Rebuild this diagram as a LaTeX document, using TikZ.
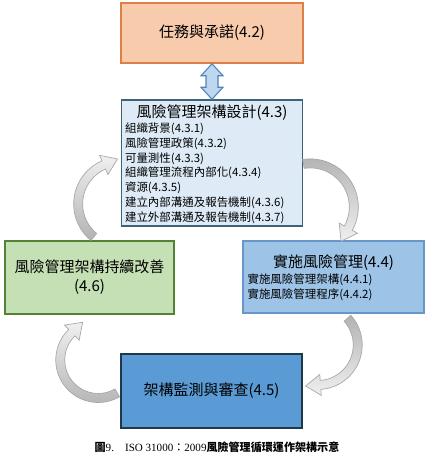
\documentclass[tikz,border=0pt]{standalone}
\usepackage{fontspec}
\setmainfont{Noto Sans CJK TC}
\newfontfamily\capserif{Liberation Serif}
\usetikzlibrary{positioning, calc}

\definecolor{commitfill}{RGB}{248,203,173}
\definecolor{commitline}{RGB}{222,128,70}
\definecolor{designfill}{RGB}{222,235,247}
\definecolor{designline}{RGB}{62,98,120}
\definecolor{improvefill}{RGB}{197,224,180}
\definecolor{improveline}{RGB}{84,130,53}
\definecolor{implfill}{RGB}{157,195,230}
\definecolor{implline}{RGB}{105,150,200}
\definecolor{monitorfill}{RGB}{91,155,213}
\definecolor{monitorline}{RGB}{30,58,72}
\definecolor{linkfill}{RGB}{189,215,238}
\definecolor{linkline}{RGB}{80,130,190}

\newcommand{\titlesize}{\fontsize{11.25pt}{14.3pt}\selectfont\lineskiplimit=-\maxdimen}
\newcommand{\itemsize}{\fontsize{8.6pt}{11.2pt}\selectfont\lineskiplimit=-\maxdimen}

% curved block arrow: centre, radius, start angle, end angle, fill options
\newcommand{\bendarrow}[5]{%
  \pgfmathsetmacro{\bendout}{#2+4.5}%
  \pgfmathsetmacro{\bendin}{#2-4.5}%
  \pgfmathsetmacro{\headout}{#2+10.5}%
  \pgfmathsetmacro{\headin}{#2-10.5}%
  \pgfmathsetmacro{\tipdir}{#4<#3 ? #4-90 : #4+90}%
  \draw[bendstyle, #5] ($(#1)+(#3:\bendout)$) arc[start angle=#3, end angle=#4, radius=\bendout]
    -- ($(#1)+(#4:\headout)$) -- ($(#1)+(#4:#2)+(\tipdir:15)$) -- ($(#1)+(#4:\headin)$)
    -- ($(#1)+(#4:\bendin)$) arc[start angle=#4, end angle=#3, radius=\bendin] -- cycle;
}

\begin{document}
\begin{tikzpicture}[x=0.75pt, y=0.75pt,
  box/.style={rectangle, draw, line width=1.1pt, inner sep=0pt, font=\titlesize, align=center},
  itemlist/.style={inner sep=0pt, font=\itemsize, align=left, anchor=north west},
  linkarrow/.style={draw=linkline, fill=linkfill, line width=0.8pt, line join=miter},
  bendstyle/.style={draw=gray!70, line width=0.5pt}]
\useasboundingbox (0,0) rectangle (430,458);

% boxes
\node[box, fill=commitfill, draw=commitline, minimum width=136.5pt, minimum height=45pt] (commit) at (212,425) {任務與承諾(4.2)};

\node[box, fill=designfill, draw=designline, minimum width=135.75pt, minimum height=94.5pt] (design) at (212,295) {};
\node[font=\titlesize] (designtitle) at ($(design.north)+(0,-13.5)$) {風險管理架構設計(4.3)};
\node[itemlist] (designitems) at ($(design.north west)+(4,-23)$) {組織背景(4.3.1)\\
  風險管理政策(4.3.2)\\
  可量測性(4.3.3)\\
  組織管理流程內部化(4.3.4)\\
  資源(4.3.5)\\
  建立內部溝通及報告機制(4.3.6)\\
  建立外部溝通及報告機制(4.3.7)};

\node[box, fill=improvefill, draw=improveline, minimum width=126.75pt, minimum height=54.75pt] (improve) at (89.5,180.5) {風險管理架構持續改善\\(4.6)};

\node[box, fill=implfill, draw=implline, minimum width=135.75pt, minimum height=54pt] (implement) at (333.5,181) {};
\node[font=\titlesize] (impltitle) at ($(implement.north)+(0,-22)$) {實施風險管理(4.4)};
\node[itemlist] (implitems) at ($(implement.north west)+(5,-33)$) {實施風險管理架構(4.4.1)\\
  實施風險管理程序(4.4.2)};

\node[box, fill=monitorfill, draw=monitorline, minimum width=135.75pt, minimum height=55.5pt] (monitor) at (211.5,67) {架構監測與審查(4.5)};

% double arrow
\draw[linkarrow] (commit.south) -- ++(11,-12) -- ++(-5,0) -- ($(design.north)+(6,12)$) -- ++(5,0)
  -- (design.north) -- ++(-11,12) -- ++(5,0) -- ($(commit.south)+(-6,-12)$) -- ++(-5,0) -- cycle;

% curved arrows round the cycle
\coordinate (turnA) at ($(design.west)+(0,-41)$);
\coordinate (turnB) at ($(design.east)+(7,-44)$);
\coordinate (turnC) at ($(monitor.east)+(15,46)$);
\coordinate (turnD) at ($(monitor.west)+(-22,31)$);
\bendarrow{turnA}{42.6}{230.7}{113.5}{top color=gray!12, bottom color=gray!60}
\bendarrow{turnB}{43.6}{99}{-29}{top color=gray!60, bottom color=gray!12}
\bendarrow{turnC}{40}{42}{-86}{top color=gray!60, bottom color=gray!12}
\bendarrow{turnD}{38}{-60}{-226}{top color=gray!12, bottom color=gray!60}

% caption
\node[font=\fontsize{8.3pt}{10pt}\selectfont] (caption) at (217,11) {{\bfseries 圖}{\capserif 9.\quad ISO 31000}：{\capserif 2009}{\bfseries 風險管理循環運作架構示意}};
\end{tikzpicture}
\end{document}
